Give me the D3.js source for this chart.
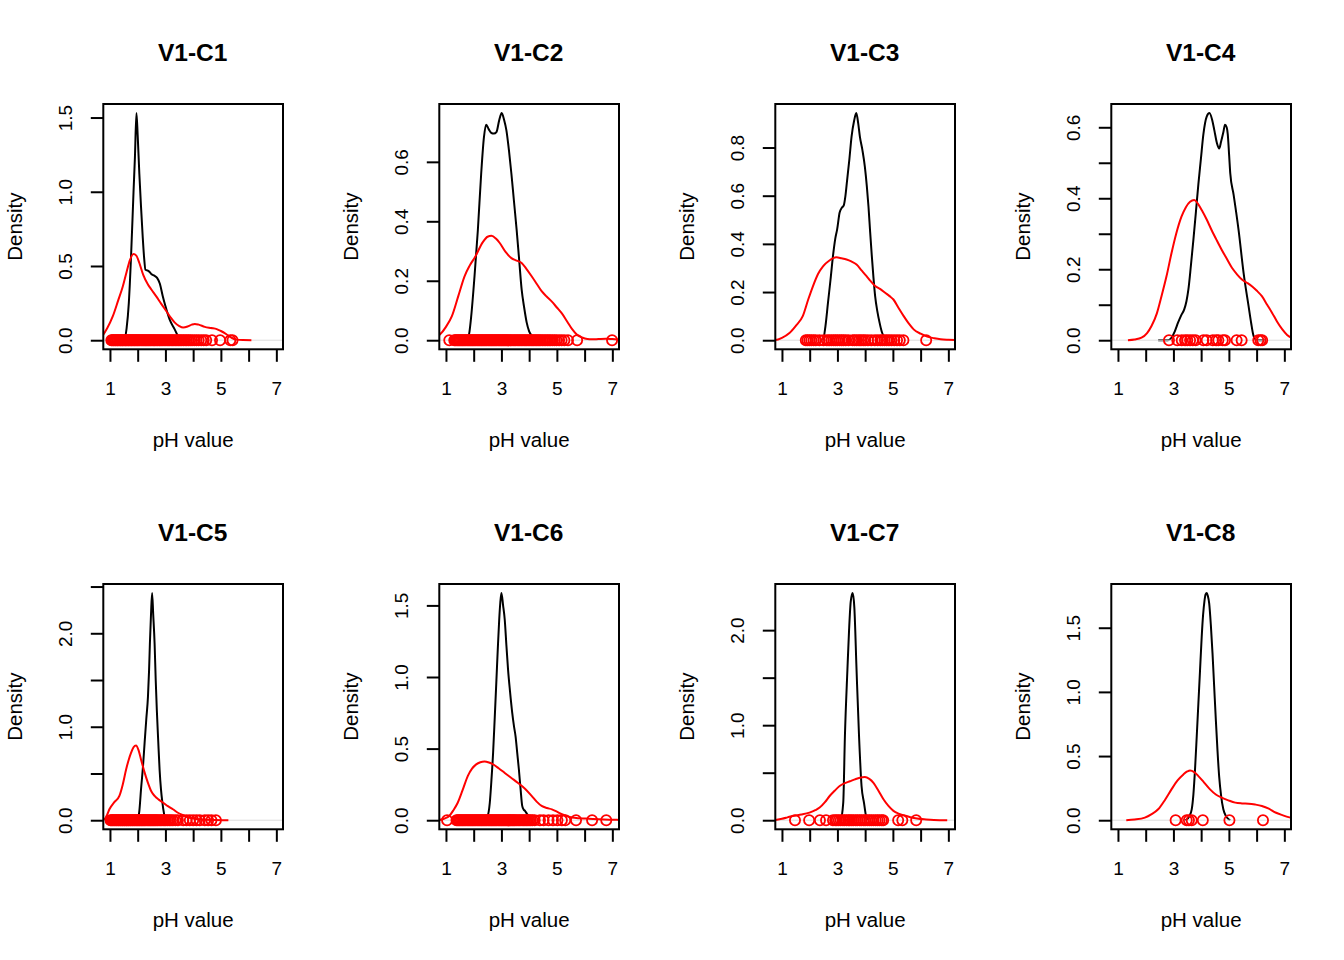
<!DOCTYPE html>
<html>
<head>
<meta charset="utf-8">
<script src="https://cdn.jsdelivr.net/npm/d3@7"></script>
<style>
  html, body { margin: 0; padding: 0; background: #ffffff; }
  svg { display: block; }
  text { font-family: "Liberation Sans", Arial, Helvetica, sans-serif; fill: #000; }
</style>
</head>
<body>
<div id="chart"></div>
<script>
// ---------------- data ----------------
const titles = ["V1-C1", "V1-C2", "V1-C3", "V1-C4", "V1-C5", "V1-C6", "V1-C7", "V1-C8"];
const xLabel = "pH value";
const yLabel = "Density";
const xTicks = [1, 2, 3, 4, 5, 6, 7];
const xTickLabels = ["1", "", "3", "", "5", "", "7"];

// y tick values and labels per panel
const yTicksC1 = [0, 0.5, 1.0, 1.5];            const yLabelsC1 = ["0.0", "0.5", "1.0", "1.5"];
const yTicksC2 = [0, 0.2, 0.4, 0.6];            const yLabelsC2 = ["0.0", "0.2", "0.4", "0.6"];
const yTicksC3 = [0, 0.2, 0.4, 0.6, 0.8];       const yLabelsC3 = ["0.0", "0.2", "0.4", "0.6", "0.8"];
const yTicksC4 = [0, 0.1, 0.2, 0.3, 0.4, 0.5, 0.6]; const yLabelsC4 = ["0.0", "", "0.2", "", "0.4", "", "0.6"];
const yTicksC5 = [0, 0.5, 1.0, 1.5, 2.0, 2.5];  const yLabelsC5 = ["0.0", "", "1.0", "", "2.0", ""];
const yTicksC6 = [0, 0.5, 1.0, 1.5];            const yLabelsC6 = ["0.0", "0.5", "1.0", "1.5"];
const yTicksC7 = [0, 0.5, 1.0, 1.5, 2.0];       const yLabelsC7 = ["0.0", "", "1.0", "", "2.0"];
const yTicksC8 = [0, 0.5, 1.0, 1.5];            const yLabelsC8 = ["0.0", "0.5", "1.0", "1.5"];

// black density curves [pH, density]
const blackC1 = [[1.40,0],[1.50,0],[1.60,0.08],[1.68,0.25],[1.76,0.56],[1.85,1.0],[1.90,1.23],[1.955,1.53],[2.00,1.38],[2.06,1.12],[2.12,0.9],[2.18,0.70],[2.23,0.56],[2.28,0.475],[2.35,0.47],[2.43,0.46],[2.5,0.445],[2.6,0.435],[2.7,0.42],[2.8,0.38],[2.9,0.3],[3.0,0.23],[3.15,0.14],[3.33,0.075],[3.45,0.03],[3.55,0.005],[3.7,0]];
const blackC2 = [[1.70,0],[1.76,0],[1.85,0.03],[1.91,0.08],[2.03,0.215],[2.15,0.37],[2.27,0.56],[2.37,0.683],[2.45,0.725],[2.54,0.71],[2.64,0.697],[2.73,0.695],[2.82,0.70],[2.92,0.74],[3.01,0.764],[3.1,0.74],[3.18,0.706],[3.27,0.64],[3.36,0.56],[3.45,0.47],[3.55,0.37],[3.64,0.27],[3.73,0.17],[3.82,0.11],[3.91,0.06],[4.0,0.03],[4.09,0.015],[4.21,0]];
const blackC3 = [[2.40,0],[2.48,0],[2.57,0.06],[2.66,0.156],[2.75,0.25],[2.84,0.35],[2.92,0.42],[2.99,0.46],[3.08,0.53],[3.16,0.55],[3.23,0.56],[3.29,0.6],[3.35,0.665],[3.43,0.75],[3.51,0.845],[3.6,0.91],[3.68,0.943],[3.75,0.9],[3.81,0.845],[3.9,0.79],[3.99,0.72],[4.06,0.64],[4.12,0.555],[4.18,0.45],[4.24,0.35],[4.3,0.26],[4.36,0.183],[4.44,0.12],[4.52,0.073],[4.6,0.035],[4.66,0.018],[4.78,0]];
const blackC4 = [[2.45,0],[2.81,0],[2.93,0.007],[3.05,0.025],[3.17,0.05],[3.28,0.07],[3.39,0.087],[3.47,0.11],[3.54,0.143],[3.63,0.21],[3.72,0.283],[3.81,0.36],[3.9,0.44],[3.99,0.51],[4.08,0.58],[4.2,0.63],[4.3,0.64],[4.4,0.62],[4.48,0.59],[4.57,0.555],[4.65,0.54],[4.72,0.56],[4.8,0.586],[4.86,0.607],[4.92,0.6],[4.96,0.58],[5.01,0.52],[5.05,0.47],[5.17,0.41],[5.35,0.31],[5.53,0.19],[5.71,0.096],[5.8,0.05],[5.89,0.012],[6.0,0],[6.3,0]];
const blackC5 = [[1.9,0],[2.0,0.01],[2.06,0.1],[2.12,0.33],[2.19,0.57],[2.25,0.83],[2.31,1.08],[2.37,1.32],[2.41,1.6],[2.44,1.89],[2.48,2.2],[2.52,2.43],[2.56,2.2],[2.61,1.89],[2.65,1.5],[2.69,1.18],[2.74,0.85],[2.79,0.54],[2.84,0.33],[2.89,0.19],[2.95,0.07],[3.0,0.01],[3.1,0]];
const blackC6 = [[2.4,0],[2.49,0.02],[2.58,0.12],[2.64,0.28],[2.7,0.47],[2.76,0.72],[2.82,0.98],[2.87,1.2],[2.92,1.4],[2.96,1.52],[3.0,1.586],[3.06,1.5],[3.12,1.4],[3.18,1.22],[3.24,1.05],[3.31,0.9],[3.39,0.75],[3.45,0.66],[3.51,0.586],[3.57,0.47],[3.63,0.354],[3.69,0.22],[3.75,0.1],[3.8,0.075],[3.85,0.065],[3.92,0.045],[3.99,0.03],[4.09,0.0],[4.2,0]];
const blackC7 = [[3.05,0],[3.12,0.01],[3.21,0.185],[3.27,0.88],[3.36,1.58],[3.42,2.0],[3.48,2.3],[3.55,2.39],[3.61,2.24],[3.69,1.58],[3.78,0.88],[3.87,0.36],[3.96,0.18],[4.03,0.045],[4.08,0]];
const blackC8 = [[3.4,0],[3.48,0.005],[3.57,0.03],[3.66,0.085],[3.72,0.2],[3.78,0.4],[3.84,0.65],[3.9,0.91],[3.96,1.17],[4.02,1.43],[4.07,1.6],[4.12,1.71],[4.16,1.76],[4.2,1.77],[4.24,1.75],[4.29,1.69],[4.35,1.52],[4.41,1.3],[4.47,1.04],[4.53,0.78],[4.59,0.54],[4.65,0.34],[4.72,0.19],[4.8,0.085],[4.9,0.03],[4.99,0.008],[5.05,0]];

// red density curves [pH, density]
const redC1 = [[0.62,0.01],[0.73,0.03],[0.9,0.08],[1.1,0.16],[1.3,0.27],[1.46,0.36],[1.6,0.46],[1.72,0.54],[1.85,0.58],[1.95,0.57],[2.06,0.52],[2.2,0.44],[2.37,0.375],[2.5,0.34],[2.67,0.295],[2.85,0.245],[3.03,0.197],[3.2,0.15],[3.33,0.12],[3.5,0.095],[3.64,0.085],[3.8,0.092],[3.95,0.105],[4.06,0.11],[4.2,0.105],[4.42,0.09],[4.65,0.082],[4.85,0.075],[5.0,0.062],[5.2,0.04],[5.4,0.015],[5.57,0.004],[5.8,0.001],[6.1,0]];
const redC2 = [[0.6,0.01],[0.79,0.02],[1.0,0.045],[1.21,0.08],[1.45,0.15],[1.67,0.215],[1.85,0.25],[2.05,0.28],[2.33,0.33],[2.5,0.348],[2.64,0.351],[2.8,0.342],[2.94,0.327],[3.15,0.297],[3.36,0.276],[3.55,0.268],[3.73,0.26],[3.9,0.24],[4.09,0.215],[4.27,0.19],[4.45,0.165],[4.63,0.147],[4.82,0.13],[5.0,0.11],[5.18,0.09],[5.37,0.063],[5.55,0.037],[5.73,0.018],[5.91,0.009],[6.1,0.004],[6.27,0.003],[6.5,0.004],[6.76,0.005],[7.0,0.004],[7.3,0.002]];
const redC3 = [[0.6,0.0005],[0.76,0.001],[1.0,0.01],[1.27,0.03],[1.5,0.06],[1.75,0.1],[1.95,0.17],[2.12,0.225],[2.3,0.275],[2.48,0.307],[2.7,0.33],[2.96,0.344],[3.15,0.34],[3.33,0.335],[3.5,0.327],[3.69,0.314],[3.87,0.29],[4.05,0.266],[4.2,0.245],[4.36,0.225],[4.55,0.212],[4.72,0.197],[4.88,0.183],[5.02,0.169],[5.2,0.135],[5.39,0.1],[5.57,0.07],[5.75,0.045],[6.0,0.027],[6.24,0.015],[6.5,0.008],[6.72,0.004],[7.0,0.002],[7.3,0.001]];
const redC4 = [[1.36,0],[1.6,0.002],[1.85,0.007],[2.05,0.02],[2.21,0.04],[2.4,0.075],[2.57,0.124],[2.75,0.18],[2.93,0.245],[3.1,0.3],[3.29,0.348],[3.45,0.375],[3.6,0.39],[3.75,0.395],[3.88,0.385],[4.02,0.367],[4.2,0.34],[4.38,0.31],[4.56,0.282],[4.74,0.255],[4.92,0.23],[5.11,0.204],[5.3,0.185],[5.47,0.171],[5.65,0.162],[5.83,0.152],[6.0,0.14],[6.19,0.124],[6.38,0.1],[6.56,0.077],[6.74,0.052],[6.92,0.031],[7.1,0.015],[7.3,0.005]];
const redC5 = [[0.6,0],[0.79,0.01],[0.9,0.06],[0.98,0.117],[1.15,0.19],[1.34,0.26],[1.46,0.38],[1.58,0.54],[1.68,0.65],[1.76,0.72],[1.85,0.78],[1.94,0.8],[2.03,0.75],[2.12,0.65],[2.24,0.52],[2.37,0.4],[2.49,0.31],[2.61,0.26],[2.76,0.22],[2.91,0.19],[3.09,0.15],[3.27,0.117],[3.45,0.08],[3.64,0.053],[3.82,0.032],[4.0,0.018],[4.24,0.008],[4.48,0.004],[4.8,0.001],[5.27,0]];
const redC6 = [[0.6,0],[0.76,0.002],[0.95,0.012],[1.12,0.03],[1.27,0.07],[1.42,0.12],[1.6,0.21],[1.79,0.31],[1.94,0.36],[2.09,0.39],[2.24,0.405],[2.39,0.41],[2.55,0.403],[2.7,0.39],[2.9,0.363],[3.12,0.33],[3.36,0.295],[3.6,0.26],[3.85,0.22],[4.09,0.17],[4.27,0.13],[4.45,0.1],[4.64,0.085],[4.82,0.076],[5.0,0.06],[5.18,0.042],[5.37,0.028],[5.55,0.019],[5.8,0.014],[6.03,0.012],[6.3,0.009],[6.52,0.007],[6.9,0.004],[7.3,0.002]];
const redC7 = [[0.6,0.001],[0.76,0.003],[1.0,0.015],[1.2,0.03],[1.39,0.045],[1.7,0.06],[1.99,0.08],[2.2,0.105],[2.36,0.133],[2.55,0.19],[2.72,0.255],[2.9,0.31],[3.08,0.36],[3.27,0.39],[3.45,0.41],[3.63,0.43],[3.81,0.447],[3.99,0.454],[4.15,0.435],[4.3,0.394],[4.48,0.31],[4.66,0.22],[4.84,0.15],[5.02,0.098],[5.2,0.07],[5.39,0.052],[5.63,0.032],[5.87,0.017],[6.2,0.008],[6.48,0.003],[6.96,0]];
const redC8 = [[1.3,0],[1.6,0.005],[1.97,0.02],[2.2,0.045],[2.45,0.085],[2.7,0.16],[2.93,0.24],[3.15,0.31],[3.36,0.357],[3.5,0.38],[3.6,0.388],[3.75,0.375],[3.9,0.344],[4.1,0.295],[4.32,0.24],[4.53,0.2],[4.74,0.176],[4.98,0.155],[5.23,0.137],[5.47,0.131],[5.71,0.129],[5.95,0.122],[6.19,0.111],[6.44,0.09],[6.68,0.06],[6.95,0.038],[7.22,0.02],[7.4,0.01]];

// observed pH values (drawn as circles on the zero line)
const pointsC1 = [1.05,1.08,1.12,1.15,1.19,1.22,1.26,1.29,1.33,1.37,1.4,1.44,1.47,1.51,1.55,1.58,1.62,1.66,1.69,1.73,1.77,1.8,1.84,1.88,1.91,1.95,1.99,2.02,2.06,2.1,2.14,2.18,2.22,2.26,2.3,2.34,2.38,2.42,2.46,2.5,2.55,2.59,2.63,2.68,2.72,2.77,2.81,2.86,2.91,2.96,3.01,3.06,3.11,3.16,3.21,3.26,3.31,3.37,3.42,3.48,3.53,3.59,3.65,3.71,3.77,3.83,3.89,3.96,4.04,4.12,4.2,4.29,4.38,4.47,4.68,4.97,5.34,5.42];
const pointsC2 = [1.12,1.3,1.34,1.38,1.42,1.46,1.5,1.54,1.58,1.62,1.66,1.7,1.74,1.78,1.82,1.86,1.9,1.94,1.98,2.02,2.06,2.1,2.14,2.18,2.22,2.26,2.3,2.34,2.38,2.42,2.46,2.5,2.54,2.58,2.62,2.66,2.7,2.74,2.78,2.82,2.86,2.9,2.94,2.98,3.02,3.06,3.1,3.14,3.18,3.22,3.27,3.32,3.37,3.42,3.47,3.52,3.57,3.62,3.67,3.72,3.77,3.82,3.87,3.92,3.97,4.02,4.07,4.12,4.17,4.22,4.27,4.32,4.37,4.42,4.48,4.54,4.6,4.66,4.72,4.78,4.85,4.92,4.99,5.08,5.17,5.27,5.4,5.73,6.99];
const pointsC3 = [1.86,1.92,1.99,2.06,2.14,2.22,2.35,2.5,2.62,2.7,2.78,2.86,2.93,3.0,3.08,3.15,3.22,3.3,3.4,3.55,3.62,3.7,3.78,3.85,3.93,4.0,4.1,4.22,4.35,4.45,4.55,4.62,4.7,4.78,4.86,4.95,5.05,5.15,5.25,5.38,6.2];
const pointsC4 = [2.84,3.14,3.3,3.42,3.5,3.6,3.7,3.8,4.08,4.2,4.42,4.54,4.62,4.78,4.86,5.28,5.46,6.06,6.14,6.2];
const pointsC5 = [1.02,1.05,1.09,1.12,1.16,1.19,1.23,1.26,1.3,1.33,1.37,1.4,1.44,1.47,1.51,1.54,1.58,1.61,1.65,1.68,1.72,1.75,1.79,1.82,1.86,1.89,1.93,1.96,2.0,2.03,2.07,2.1,2.14,2.17,2.21,2.24,2.28,2.32,2.36,2.4,2.44,2.48,2.52,2.56,2.6,2.64,2.68,2.72,2.77,2.82,2.87,2.92,2.97,3.02,3.08,3.14,3.2,3.27,3.36,3.45,3.64,3.76,3.88,4.0,4.12,4.24,4.42,4.54,4.66,4.82];
const pointsC6 = [1.04,1.38,1.42,1.46,1.5,1.54,1.58,1.62,1.66,1.7,1.74,1.78,1.82,1.86,1.9,1.94,1.98,2.02,2.06,2.1,2.14,2.18,2.22,2.26,2.3,2.34,2.38,2.42,2.46,2.5,2.54,2.58,2.62,2.66,2.7,2.74,2.78,2.82,2.86,2.9,2.94,2.98,3.02,3.06,3.1,3.14,3.18,3.22,3.26,3.3,3.34,3.38,3.42,3.46,3.5,3.55,3.6,3.65,3.7,3.75,3.8,3.85,3.9,3.95,4.0,4.06,4.12,4.2,4.39,4.52,4.7,4.86,5.02,5.18,5.3,5.69,6.27,6.78];
const pointsC7 = [1.47,1.98,2.37,2.59,2.84,2.92,2.98,3.05,3.12,3.2,3.26,3.33,3.4,3.45,3.52,3.58,3.66,3.72,3.8,3.86,3.94,4.0,4.08,4.15,4.22,4.3,4.38,4.45,4.52,4.6,4.65,5.19,5.34,5.84];
const pointsC8 = [3.08,3.48,3.56,3.66,4.06,5.02,6.23];

const panels = [
  { title: titles[0], black: blackC1, red: redC1, pts: pointsC1, yt: yTicksC1, yl: yLabelsC1 },
  { title: titles[1], black: blackC2, red: redC2, pts: pointsC2, yt: yTicksC2, yl: yLabelsC2 },
  { title: titles[2], black: blackC3, red: redC3, pts: pointsC3, yt: yTicksC3, yl: yLabelsC3 },
  { title: titles[3], black: blackC4, red: redC4, pts: pointsC4, yt: yTicksC4, yl: yLabelsC4 },
  { title: titles[4], black: blackC5, red: redC5, pts: pointsC5, yt: yTicksC5, yl: yLabelsC5 },
  { title: titles[5], black: blackC6, red: redC6, pts: pointsC6, yt: yTicksC6, yl: yLabelsC6 },
  { title: titles[6], black: blackC7, red: redC7, pts: pointsC7, yt: yTicksC7, yl: yLabelsC7 },
  { title: titles[7], black: blackC8, red: redC8, pts: pointsC8, yt: yTicksC8, yl: yLabelsC8 }
];

// ---------------- layout ----------------
const W = 1344, H = 960;
const cellW = 336, cellH = 480;
const M = { left: 103.3, right: 53, top: 104, bottom: 130.7 };
const pw = cellW - M.left - M.right;
const ph = cellH - M.top - M.bottom;
const LW = 2;
const tickLen = 12.5;
const FONT = "Liberation Sans, Arial, Helvetica, sans-serif";

const svg = d3.select("#chart").append("svg")
  .attr("width", W).attr("height", H)
  .attr("viewBox", `0 0 ${W} ${H}`);
svg.append("rect").attr("width", W).attr("height", H).attr("fill", "#fff");

const x = d3.scaleLinear().domain([1 - 0.04 * 6, 7 + 0.04 * 6]).range([0, pw]);

panels.forEach((p, i) => {
  const col = i % 4, row = Math.floor(i / 4);
  const g = svg.append("g")
    .attr("transform", `translate(${col * cellW + M.left},${row * cellH + M.top})`);

  const ymax = d3.max(p.black, d => d[1]);
  const y = d3.scaleLinear().domain([-0.04 * ymax, 1.04 * ymax]).range([ph, 0]);

  const clipId = "clip" + i;
  g.append("clipPath").attr("id", clipId)
    .append("rect").attr("x", 0).attr("y", 0).attr("width", pw).attr("height", ph);

  const plot = g.append("g").attr("clip-path", `url(#${clipId})`);
  const line = d3.line().x(d => x(d[0])).y(d => y(d[1])).curve(d3.curveMonotoneX);

  plot.append("path").datum(p.black)
    .attr("d", line).attr("fill", "none").attr("stroke", "#000")
    .attr("stroke-width", LW).attr("stroke-linejoin", "round");

  plot.append("line")
    .attr("x1", 0).attr("x2", pw).attr("y1", y(0)).attr("y2", y(0))
    .attr("stroke", "#dedede").attr("stroke-width", 1);

  plot.append("path").datum(p.red)
    .attr("d", line).attr("fill", "none").attr("stroke", "#ff0000")
    .attr("stroke-width", LW).attr("stroke-linejoin", "round");

  plot.selectAll("circle.pt").data(p.pts).enter().append("circle")
    .attr("class", "pt")
    .attr("cx", d => x(d)).attr("cy", y(0)).attr("r", 5.1)
    .attr("fill", "none").attr("stroke", "#ff0000").attr("stroke-width", 1.8);

  // x axis
  const xa = g.append("g").attr("transform", `translate(0,${ph})`)
    .call(d3.axisBottom(x).tickValues(xTicks)
      .tickFormat((d, k) => xTickLabels[k])
      .tickSizeInner(tickLen).tickSizeOuter(0).tickPadding(20));
  xa.select(".domain").remove();
  xa.selectAll(".tick line").attr("stroke", "#000").attr("stroke-width", LW);
  xa.selectAll(".tick text").attr("font-size", 19)
    .attr("font-family", FONT).attr("fill", "#000");

  // y axis
  const ya = g.append("g")
    .call(d3.axisLeft(y).tickValues(p.yt)
      .tickFormat((d, k) => p.yl[k])
      .tickSizeInner(tickLen).tickSizeOuter(0));
  ya.select(".domain").remove();
  ya.selectAll(".tick line").attr("stroke", "#000").attr("stroke-width", LW);
  ya.selectAll(".tick text")
    .attr("font-size", 19)
    .attr("font-family", FONT).attr("fill", "#000")
    .attr("transform", "rotate(-90)")
    .attr("x", 0).attr("y", -31.6).attr("dy", null)
    .attr("text-anchor", "middle");

  // box
  g.append("rect").attr("x", 0).attr("y", 0).attr("width", pw).attr("height", ph)
    .attr("fill", "none").attr("stroke", "#000").attr("stroke-width", LW);

  // titles
  g.append("text").attr("x", pw / 2 - 0.5).attr("y", -43.3)
    .attr("text-anchor", "middle").attr("font-weight", "bold").attr("font-size", 24.5)
    .text(p.title);
  g.append("text").attr("x", pw / 2).attr("y", ph + 97.4)
    .attr("text-anchor", "middle").attr("font-size", 20.5)
    .text(xLabel);
  g.append("text")
    .attr("transform", `translate(${21.5 - M.left},${ph / 2}) rotate(-90)`)
    .attr("text-anchor", "middle").attr("font-size", 20.5)
    .text(yLabel);
});
</script>
</body>
</html>
